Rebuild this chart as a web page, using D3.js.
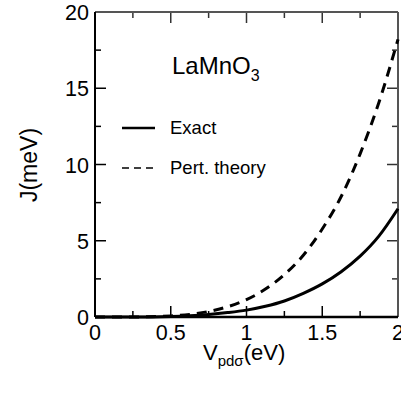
<!DOCTYPE html>
<html>
<head>
<meta charset="utf-8">
<script src="https://cdn.jsdelivr.net/npm/d3@7"></script>
<style>
  body { margin: 0; background: #fff; }
  text { font-family: "Liberation Sans", Arial, sans-serif; fill: #000; }
</style>
</head>
<body>
<svg id="chart" width="401" height="399"></svg>
<script>
// values
const vpd = [0, 0.25, 0.5, 0.625, 0.75, 0.875, 1.0, 1.125, 1.25, 1.375, 1.5, 1.625, 1.75, 1.875, 2.0];
const jExact = [0, 0.002, 0.04, 0.09, 0.17, 0.29, 0.45, 0.7, 1.05, 1.55, 2.17, 2.97, 3.99, 5.32, 7.1];
const jPert = [0, 0.004, 0.07, 0.17, 0.36, 0.67, 1.14, 1.83, 2.78, 4.05, 5.77, 7.9, 10.7, 14.1, 18.2];
const xTicks = [0, 0.5, 1, 1.5, 2];
const yTicks = [0, 5, 10, 15, 20];

const svg = d3.select("#chart");
const margin = { top: 12, right: 3, bottom: 82, left: 95 };
const innerWidth = 401 - margin.left - margin.right;
const innerHeight = 399 - margin.top - margin.bottom;

const x = d3.scaleLinear().domain([0, 2]).range([0, innerWidth]);
const y = d3.scaleLinear().domain([0, 20]).range([innerHeight, 0]);

const g = svg.append("g").attr("transform", `translate(${margin.left},${margin.top})`);

// minor + major ticks, drawn inward on all four sides
const xMinor = d3.range(0.25, 2, 0.5);
const yMinor = d3.range(2.5, 20, 5);
function xticks(vals, len, color) {
    vals.forEach(v => {
        g.append("line").attr("x1", x(v)).attr("x2", x(v)).attr("y1", innerHeight).attr("y2", innerHeight - len).attr("stroke", "#000").attr("stroke-width", 1.5);
        g.append("line").attr("x1", x(v)).attr("x2", x(v)).attr("y1", 0).attr("y2", len).attr("stroke", color).attr("stroke-width", 1.5);
    });
}
function yticks(vals, len, color) {
    vals.forEach(v => {
        g.append("line").attr("x1", 0).attr("x2", len).attr("y1", y(v)).attr("y2", y(v)).attr("stroke", "#000").attr("stroke-width", 1.5);
        g.append("line").attr("x1", innerWidth).attr("x2", innerWidth - len).attr("y1", y(v)).attr("y2", y(v)).attr("stroke", color).attr("stroke-width", 1.5);
    });
}
xticks(xTicks.slice(1, -1), 11, "#333");
xticks(xMinor, 6, "#333");
yticks(yTicks.slice(1, -1), 11, "#333");
yticks(yMinor, 6, "#333");

// frame
g.append("line").attr("x1", 0).attr("x2", innerWidth).attr("y1", 0).attr("y2", 0).attr("stroke", "#555").attr("stroke-width", 2);
g.append("line").attr("x1", innerWidth).attr("x2", innerWidth).attr("y1", 0).attr("y2", innerHeight).attr("stroke", "#555").attr("stroke-width", 2);
g.append("line").attr("x1", 0).attr("x2", 0).attr("y1", 0).attr("y2", innerHeight).attr("stroke", "#000").attr("stroke-width", 2);
g.append("line").attr("x1", 0).attr("x2", innerWidth).attr("y1", innerHeight).attr("y2", innerHeight).attr("stroke", "#000").attr("stroke-width", 2.5);

// tick labels
g.selectAll(".xl").data(xTicks).join("text")
    .attr("class", "xl")
    .attr("x", d => x(d)).attr("y", innerHeight + 23)
    .attr("text-anchor", "middle").style("font-size", "21.5px")
    .text(d => d);
g.selectAll(".yl").data(yTicks).join("text")
    .attr("class", "yl")
    .attr("x", -6).attr("y", d => y(d) + 8)
    .attr("text-anchor", "end").style("font-size", "21.5px")
    .text(d => d);

// curves
const line = d3.line().x(d => x(d[0])).y(d => y(d[1])).curve(d3.curveMonotoneX);
g.append("path").datum(vpd.map((v, i) => [v, jExact[i]]))
    .attr("d", line).attr("fill", "none").attr("stroke", "#000").attr("stroke-width", 3);
g.append("path").datum(vpd.map((v, i) => [v, jPert[i]]))
    .attr("d", line).attr("fill", "none").attr("stroke", "#000").attr("stroke-width", 3)
    .attr("stroke-dasharray", "10,7");

// title
const title = svg.append("text").attr("x", 172).attr("y", 74).style("font-size", "24px");
title.append("tspan").text("LaMnO");
title.append("tspan").attr("dy", 7).style("font-size", "16px").text("3");

// legend
svg.append("line").attr("x1", 122).attr("x2", 155).attr("y1", 128).attr("y2", 128).attr("stroke", "#000").attr("stroke-width", 2.5);
svg.append("text").attr("x", 170).attr("y", 134).style("font-size", "18.5px").text("Exact");
svg.append("line").attr("x1", 122).attr("x2", 155).attr("y1", 168).attr("y2", 168).attr("stroke", "#000").attr("stroke-width", 1.5).attr("stroke-dasharray", "7,5");
svg.append("text").attr("x", 170).attr("y", 174).style("font-size", "18.5px").text("Pert. theory");

// axis titles
const xt = svg.append("text").attr("x", 203).attr("y", 360).style("font-size", "22px");
xt.append("tspan").text("V");
xt.append("tspan").attr("dy", 6).style("font-size", "15px").text("pdσ");
xt.append("tspan").attr("dy", -6).text("(eV)");

svg.append("text").attr("transform", "translate(37,165) rotate(-90)")
    .attr("text-anchor", "middle").style("font-size", "23px").text("J(meV)");
</script>
</body>
</html>
